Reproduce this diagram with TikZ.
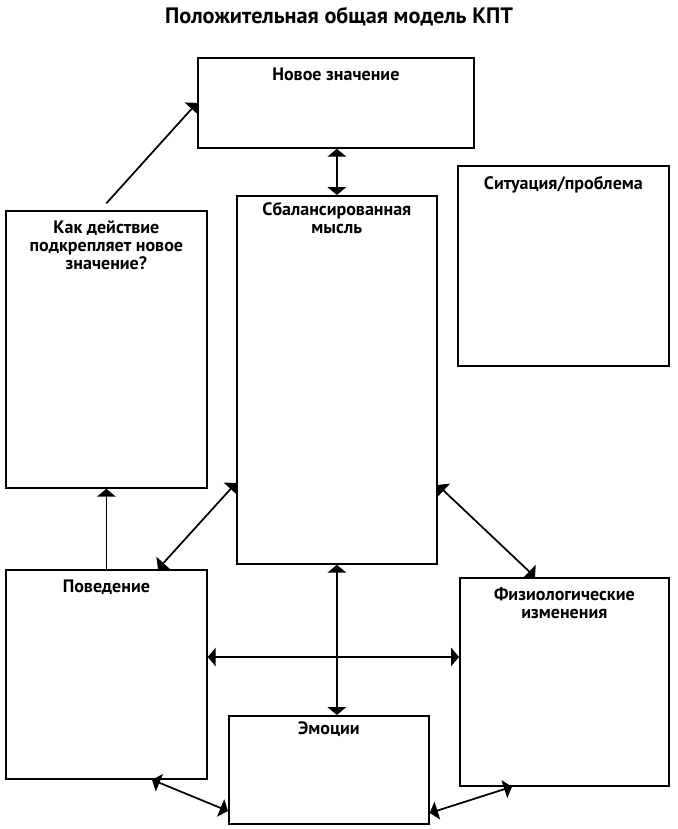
\documentclass[tikz,border=0pt]{standalone}
\usepackage{fontspec}
\setmainfont{PT Sans}
\usetikzlibrary{arrows.meta,positioning}

\begin{document}
\begin{tikzpicture}[x=0.75pt,y=-0.75pt,>={Triangle[length=6pt,width=14pt]},
  box/.style={draw,line width=1.3pt,anchor=north west,inner sep=0pt},
  head/.style={font=\bfseries\fontsize{13.5}{13.5}\selectfont,align=center,anchor=north,inner sep=0pt},
  link/.style={line width=1.3pt}]
  \useasboundingbox (0,0) rectangle (678,829);
  \node[font=\bfseries\fontsize{16.7}{18}\selectfont] (ttl) at (339,17) {Положительная общая модель КПТ};
  % boxes, placed by their top left corner
  \node[box,minimum width=207pt,minimum height=67.5pt] (nv) at (197,57) {};
  \node[box,minimum width=158.25pt,minimum height=150pt] (sit) at (457,165) {};
  \node[box,minimum width=150.75pt,minimum height=207.75pt] (kak) at (5,210) {};
  \node[box,minimum width=150pt,minimum height=276pt] (bal) at (236,195) {};
  \node[box,minimum width=150.75pt,minimum height=156.75pt] (pov) at (5,569) {};
  \node[box,minimum width=156.75pt,minimum height=156pt] (fiz) at (459,577) {};
  \node[box,minimum width=150pt,minimum height=81pt] (emo) at (228,715) {};
  % headings
  \node[head] (nvt) at ([yshift=-8pt]nv.north) {Новое значение};
  \node[head] (sitt) at ([yshift=-8pt]sit.north) {Ситуация/проблема};
  \node[head] (kakt) at ([yshift=-8pt]kak.north) {Как действие\\подкрепляет новое\\значение?};
  \node[head] (balt) at ([yshift=-5pt]bal.north) {Сбалансированная\\мысль};
  \node[head] (povt) at ([yshift=-8pt]pov.north) {Поведение};
  \node[head] (fizt) at ([yshift=-8pt]fiz.north) {Физиологические\\изменения};
  \node[head] (emot) at ([yshift=-5pt]emo.north) {Эмоции};
  % connectors
  \draw[link,->] ([yshift=5pt]kak.north) -- (nv.west);
  \draw[link,<->] (nv.south -| bal.north) -- (bal.north);
  \draw[link,->] (pov.north) -- (kak.south);
  \draw[link,<->] (bal.west |- 0,483) -- (pov.north -| 158,0);
  \draw[link,<->] (bal.east |- 0,485) -- (fiz.north -| 535,0);
  \draw[link,<->] (bal.south) -- (bal.south |- emo.north);
  \draw[link,<->] (pov.east |- 0,657) -- (fiz.west |- 0,657);
  \draw[link,<->] (pov.south -| 152,0) -- (emo.west |- 0,811);
  \draw[link,<->] (emo.east |- 0,813) -- (fiz.south -| 512,0);
\end{tikzpicture}
\end{document}
